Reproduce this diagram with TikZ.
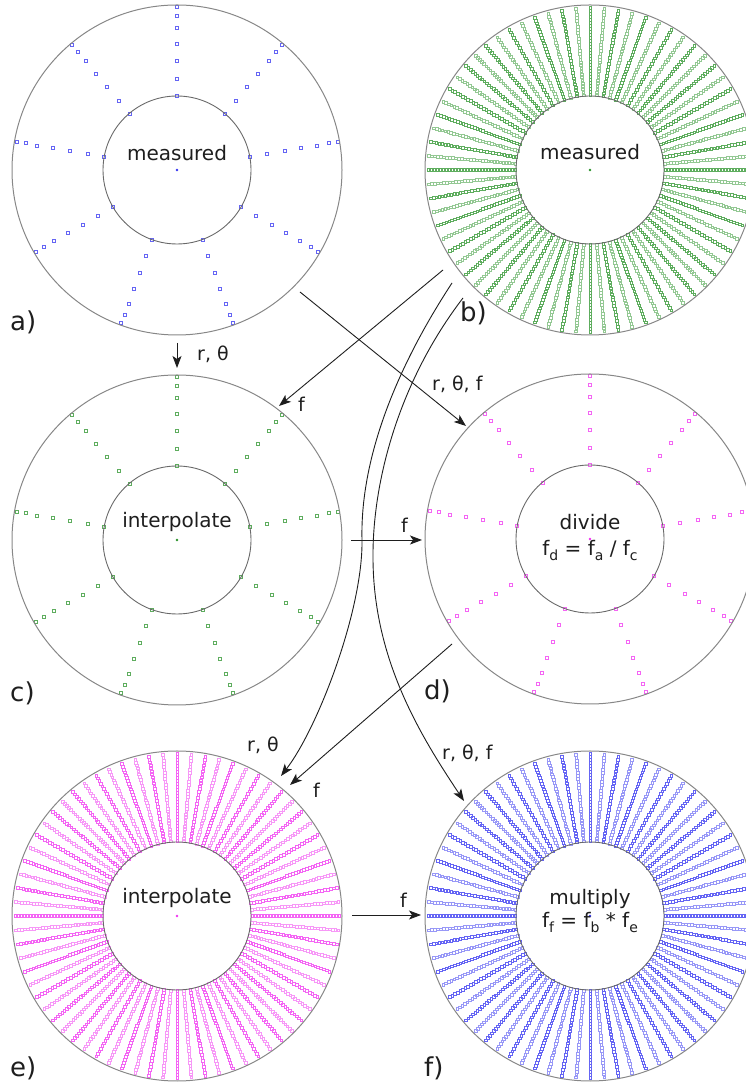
\documentclass[tikz,border=0pt]{standalone}
\usepackage{fontspec}
\setmainfont{DejaVu Sans}
\usetikzlibrary{arrows.meta}
\definecolor{mkgreen}{RGB}{40,145,40}
\definecolor{mkblue}{RGB}{50,50,240}
\definecolor{mkmag}{RGB}{240,50,240}
\definecolor{ringgray}{RGB}{135,135,135}
\definecolor{innergray}{RGB}{105,105,105}
\definecolor{inkc}{RGB}{30,30,30}
\newcommand\lowsub[1]{\raisebox{-4.5pt}{\fontsize{14pt}{14pt}\selectfont #1}}
\newcommand\sparsepanel[2]{%
  \begin{scope}[shift={(#1)}]
    \foreach \ang in {90,50,10,-30,-70,-110,-150,170,130}{
      \draw[#2, line width=0.55pt, opacity=0.75] \foreach \rr in {74,91,109,126,142,154,163}{ (\ang:\rr) +(-1.5,-1.5) rectangle +(1.5,1.5) };
    }
    \fill[#2] (0,0) circle[radius=1.3pt];
  \end{scope}}
\newcommand\densepanel[2]{%
  \begin{scope}[shift={(#1)}]
    \foreach \k in {0,...,71}{
      \pgfmathsetmacro\ang{90+5*\k}
      \pgfmathsetmacro\op{mod(\k,2)==0 ? 0.75 : 0.5}
      \draw[#2, line width=0.4pt, opacity=\op] \foreach \rr in {75,78,...,162}{ (\ang:\rr) +(-1.3,-1.3) rectangle +(1.3,1.3) };
    }
    \fill[#2] (0,0) circle[radius=1.3pt];
  \end{scope}}
\tikzset{
  outerring/.style={draw=ringgray, line width=1pt},
  innerring/.style={draw=innergray, line width=0.9pt},
  conn/.style={draw=inkc, line width=0.9pt, -{Stealth[length=12pt,width=9pt,inset=3pt]}},
  centertext/.style={text=inkc, font=\fontsize{20pt}{24pt}\selectfont, inner sep=0pt, anchor=base},
  panellabel/.style={text=inkc, font=\fontsize{26pt}{30pt}\selectfont, inner sep=0pt, anchor=base west},
  arrowlabel/.style={text=inkc, font=\fontsize{19pt}{22pt}\selectfont, inner sep=0pt, anchor=base west}
}
\begin{document}
\begin{tikzpicture}[x=1pt,y=1pt]
\useasboundingbox (0,0) rectangle (746,1084);
% centers
\coordinate (ca) at (177,914);
\coordinate (cb) at (590,914);
\coordinate (cc) at (177,544);
\coordinate (cd) at (590,545);
\coordinate (ce) at (177,168);
\coordinate (cf) at (590,168);
% markers
\sparsepanel{ca}{mkblue}
\densepanel{cb}{mkgreen}
\sparsepanel{cc}{mkgreen}
\sparsepanel{cd}{mkmag}
\densepanel{ce}{mkmag}
\densepanel{cf}{mkblue}
% rings
\foreach \c in {ca,cb,cc,cd,ce,cf}{
  \draw[outerring] (\c) circle[radius=165pt];
  \draw[innerring] (\c) circle[radius=74pt];
}
% center texts
\node[centertext] (ta) at (177,923) {measured};
\node[centertext] (tb) at (590,924) {measured};
\node[centertext] (tc) at (177,556) {interpolate};
\node[centertext] (te) at (177,180) {interpolate};
\node[centertext] (td1) at (590,554) {divide};
\node[centertext] (td2) at (590,528) {f\lowsub{d} = f\lowsub{a} / f\lowsub{c}};
\node[centertext] (tf1) at (590,179) {multiply};
\node[centertext] (tf2) at (590,156) {f\lowsub{f} = f\lowsub{b} * f\lowsub{e}};
% panel labels
\node[panellabel] (la) at (10,753) {a)};
\node[panellabel] (lb) at (460,762) {b)};
\node[panellabel] (lc) at (10,382) {c)};
\node[panellabel] (ld) at (424,384) {d)};
\node[panellabel] (le) at (10,7) {e)};
\node[panellabel] (lf) at (424,7) {f)};
% connector end points
\coordinate (a2c0) at (177,741); \coordinate (a2c1) at (177,716);
\coordinate (a2d0) at (300,792); \coordinate (a2d1) at (466,658);
\coordinate (b2c0) at (443,814); \coordinate (b2c1) at (279,678);
\coordinate (b2e0) at (452,801); \coordinate (b2e1) at (281,308);
\coordinate (b2f0) at (463,786); \coordinate (b2f1) at (464,283);
\coordinate (d2e0) at (452,440); \coordinate (d2e1) at (290,299);
\coordinate (c2d0) at (351,544); \coordinate (c2d1) at (422,544);
\coordinate (e2f0) at (352,169); \coordinate (e2f1) at (421,169);
% connectors
\draw[conn] (a2c0) -- (a2c1);
\draw[conn] (a2d0) -- (a2d1);
\draw[conn] (b2c0) -- (b2c1);
\draw[conn] (b2e0) .. controls (395,714) and (360,624) .. (362,544) .. controls (363,474) and (318,356) .. (b2e1);
\draw[conn] (b2f0) .. controls (400,704) and (372,604) .. (373,524) .. controls (374,424) and (420,349) .. (b2f1);
\draw[conn] (d2e0) -- (d2e1);
\draw[conn] (c2d0) -- (c2d1);
\draw[conn] (e2f0) -- (e2f1);
% connector labels
\node[arrowlabel] (la2c) at (197,723) {r, θ};
\node[arrowlabel] (la2d) at (432,693) {r, θ, f};
\node[arrowlabel] (lb2c) at (298,672) {f};
\node[arrowlabel] (lc2d) at (401,551) {f};
\node[arrowlabel] (lb2e) at (247,332) {r, θ};
\node[arrowlabel] (ld2e) at (313,286) {f};
\node[arrowlabel] (lb2f) at (442,324) {r, θ, f};
\node[arrowlabel] (le2f) at (400,176) {f};
\end{tikzpicture}
\end{document}
